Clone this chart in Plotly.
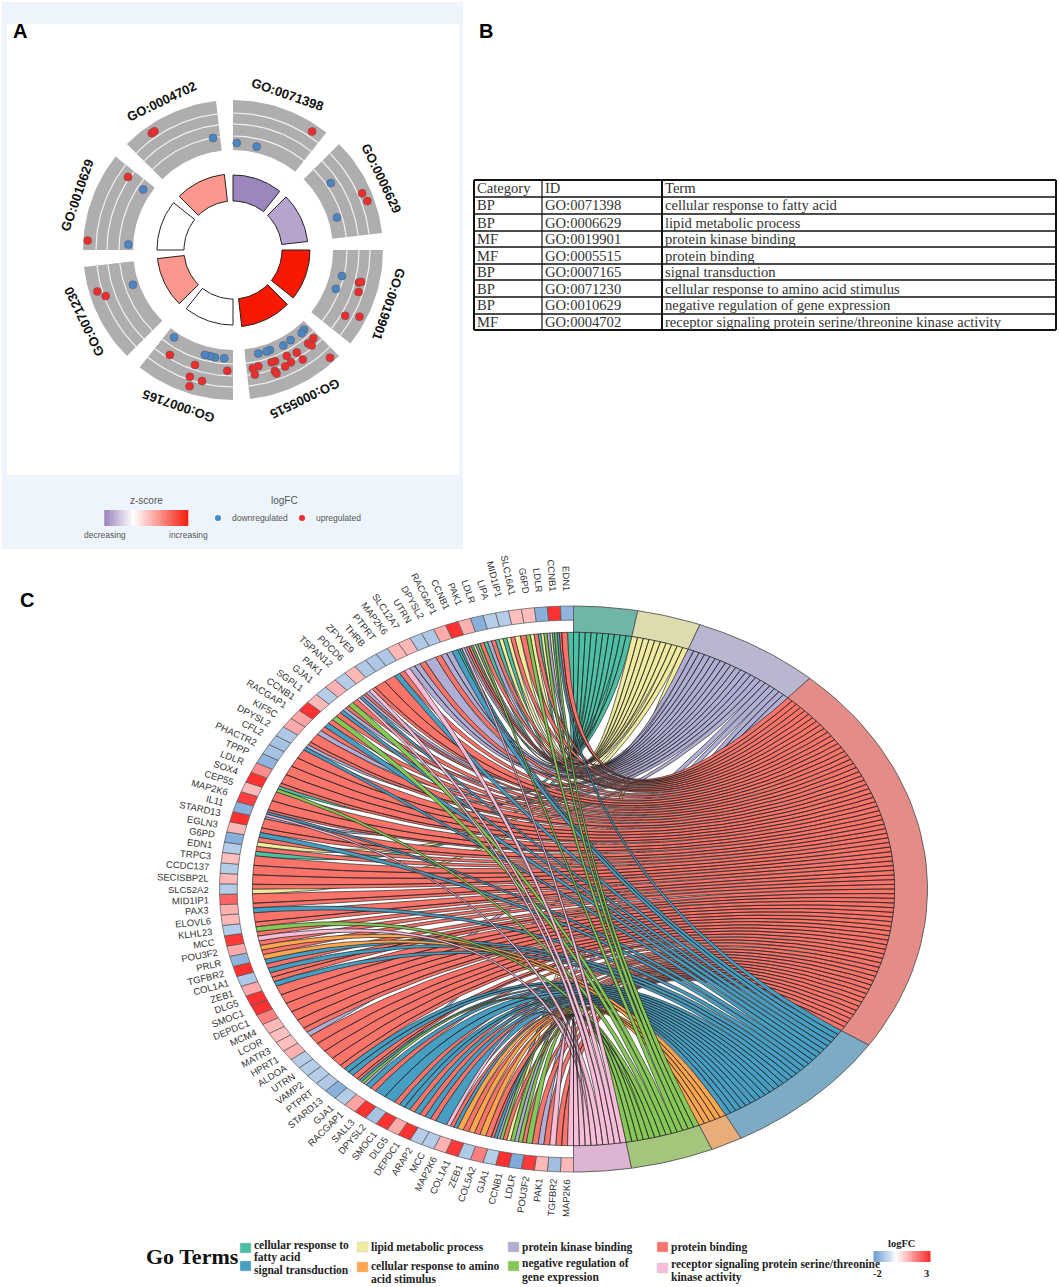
import math
import plotly.graph_objects as go

W, H = 1059, 1287

# ---------- Panel A data ----------
go_ids = ["GO:0071398", "GO:0006629", "GO:0019901", "GO:0005515",
          "GO:0007165", "GO:0071230", "GO:0010629", "GO:0004702"]
zscores = [-1, -0.75, 1, 1, 0, 0.45, 0, 0.45]
bar_sizes = [26, 26, 28, 28, 26, 27, 27, 27]
# (angle in degrees clockwise from top, logFC)
a_down = [(2, -1.3), (12.9, -1.4), (55.6, -0.15), (72.6, -1.1), (103.4, -0.8), (110.7, -1.0),
          (138.3, -1.33), (140.4, -1.22), (147.4, -1.3), (152.2, -1.2), (159.7, -1.34), (161.7, -1.3), (166.3, -1.34),
          (214, -1.46), (184.6, -1.13), (189.5, -1.1), (192.2, -1.16), (195, -1.14), (250.8, -1.4),
          (273, -1.52), (304, -1.17), (349.9, -0.63)]
a_up = [(33.7, 2.25), (66.3, 2.1), (70, 2.3), (104.5, 1.0), (104, 1.2), (108.5, 1.25), (120.4, 1.0), (117.8, 2.3),
        (137.7, -0.06), (141.2, 0.0), (140.5, 0.37), (148.1, 0.07), (153.1, -0.12), (152.7, 0.64), (147.5, 0.98),
        (155.9, 0.76), (159.3, -0.11), (161, -0.12), (160.9, 0.8), (160.6, 1.1), (167.7, -0.1), (170.5, -0.02),
        (170, 0.65), (138, 2.5),
        (182.7, 0.1), (198.3, 0.1), (211, 0.26), (193.3, 1.46), (198.8, 1.4), (197.7, 2.29),
        (253, 2.19), (250.1, 1.54), (273.7, 2.56), (304.8, 0.79), (325.2, 2.23), (326.5, 2.23)]

# ---------- Panel B data ----------
tbl_head = ["Category", "ID", "Term"]
tbl_cat = ["BP", "BP", "MF", "MF", "BP", "BP", "BP", "MF"]
tbl_id = go_ids
tbl_term = ["cellular response to fatty acid", "lipid metabolic process", "protein kinase binding",
            "protein binding", "signal transduction", "cellular response to amino acid stimulus",
            "negative regulation of gene expression",
            "receptor signaling protein serine/threonine kinase activity"]

# ---------- Panel C data ----------
genes = ["MAP2K6", "TGFBR2", "PAK1", "POU3F2", "LDLR", "CCNB1", "GJA1", "COL5A2", "ZEB1", "COL1A1", "MAP2K6", "MCC",
         "ARAP2", "DEPDC1", "DLG5", "SMOC1", "DPYSL2", "SALL3", "RACGAP1", "GJA1", "STARD13", "PTPRT", "VAMP2",
         "UTRN", "ALDOA", "HPRT1", "MATR3", "LCOR", "MCM4", "DEPDC1", "SMOC1", "DLG5", "ZEB1", "COL1A1", "TGFBR2",
         "PRLR", "POU3F2", "MCC", "KLHL23", "ELOVL6", "PAX3", "MID1IP1", "SLC52A2", "SECISBP2L", "CCDC137", "TRPC3",
         "EDN1", "G6PD", "EGLN3", "STARD13", "IL11", "MAP2K6", "CEP55", "SOX4", "LDLR", "TPPP", "PHACTR2", "CFL2",
         "DPYSL2", "KIF5C", "RACGAP1", "CCNB1", "SGPL1", "GJA1", "PAK1", "TSPAN12", "PDCD6", "ZFYVE9", "THRB",
         "PTPRT", "MAP2K6", "SLC12A7", "UTRN", "DPYSL2", "RACGAP1", "CCNB1", "PAK1", "LDLR", "LIPA", "MID1IP1",
         "SLC16A1", "G6PD", "LDLR", "CCNB1", "EDN1"]
gene_logfc = [1.0, -1.3, 1.0, 2.8, -1.7, 2.9, -1.0, 1.8, -1.1, 2.8, 1.1, -1.0, -1.0, 2.9, 1.2, 2.9, -1.2, 2.9, 1.3,
              -1.0, -1.6, -1.1, -1.0, -1.0, -1.0, 1.1, 0.9, 0.9, 1.0, 1.8, 2.9, 2.9, 1.2, -1.1, 2.9, -1.5, 1.2, 2.8,
              -1.0, 1.0, 1.1, 2.2, -1.0, 1.0, -1.0, 0.9, -1.0, -1.6, 1.0, 2.9, -1.6, 2.7, 1.0, 2.9, 1.6, -1.5, -1.2,
              -1.2, -1.1, 1.2, 1.3, 2.9, 1.0, -1.0, 1.1, -1.0, 1.0, -1.1, -1.1, -1.1, 1.0, 1.0, -1.1, -1.1, 1.2, 2.9,
              1.1, -1.6, -1.0, -1.0, 0.9, 0.9, -1.6, 2.9, -1.5]
# terms of each gene, clockwise order (0 fatty acid, 1 lipid, 2 kinase, 3 protein binding,
# 4 signal, 5 amino acid, 6 neg. regulation, 7 receptor kinase)
gene_terms = [[7, 3], [3, 7], [3, 2], [3, 6], [3, 6, 2], [6, 1, 3], [6, 2, 4, 3], [3, 5], [3, 5], [3, 5], [4, 3, 7],
              [4], [3, 4], [3, 4], [3, 4], [4, 3], [4], [4], [3, 4], [2, 6, 4, 3], [3, 4], [4, 3], [3],
              [3], [3], [3], [2, 3], [3], [3], [3], [3], [3], [4, 3], [3, 4], [3, 4], [5, 3], [5, 3], [7, 3], [6, 3],
              [3], [4, 3], [3], [1, 3], [3], [3], [3], [0, 3], [1, 3], [4, 3], [3], [2, 7, 4, 3], [3], [3], [6, 0, 3],
              [3], [3], [3], [3], [4, 2, 3], [3], [2, 3], [4, 3], [6, 3], [4, 2, 3], [6, 3], [7, 4, 2, 3], [2, 7, 3],
              [3], [3], [4, 3], [7, 2], [2, 3], [2], [3, 2], [2, 4], [0, 4, 7, 2, 3], [3, 0, 1, 2, 6], [3, 0, 2],
              [3, 0, 1], [0, 1, 3], [1, 3], [6, 1, 3], [0, 1, 6, 2], [1, 0, 6, 4, 3], [3, 0]]
ring_colors = ["#70b6a8", "#dcdcae", "#b9b6d0", "#e48d88", "#7cabc5", "#e8ad78", "#a3c57c", "#ddb4d2"]
ribbon_colors = ["#4cc0a6", "#f1eb9f", "#b1aed6", "#fb7369", "#469ec3", "#ffa64e", "#86c856", "#f9bdd9"]
legend_terms = [(240, 1248, 0, ["cellular response to", "fatty acid"], [1245, 1257]),
                (240, 1266, 4, ["signal transduction"], [1270]),
                (357, 1247, 1, ["lipid metabolic process"], [1247]),
                (357, 1267, 5, ["cellular response to amino", "acid stimulus"], [1266, 1279]),
                (508, 1247, 2, ["protein kinase binding"], [1247]),
                (508, 1266, 6, ["negative regulation of", "gene expression"], [1263, 1277]),
                (657, 1247, 3, ["protein binding"], [1247]),
                (657, 1268, 7, ["receptor signaling protein serine/threonine", "kinase activity"], [1264, 1277])]

# ---------- geometry ----------
AX, AY = 233, 250
CX, CY, RX, RY = 573.5, 889, 354, 283
R_CHORD, R_GENE = 0.907, 0.95
SANS = "Liberation Sans"
SERIF = "Liberation Serif"


def pol(deg, r):
    t = math.radians(deg)
    return r * math.sin(t), r * math.cos(t)


def hexrgb(h):
    return tuple(int(h[i:i + 2], 16) for i in (1, 3, 5))


def mix(c0, c1, t):
    a, b = hexrgb(c0), hexrgb(c1)
    return "#%02x%02x%02x" % tuple(round(a[i] + (b[i] - a[i]) * t) for i in range(3))


def arc(a0, a1, r, n=24):
    pts = [pol(a0 + (a1 - a0) * k / n, r) for k in range(n + 1)]
    return [p[0] for p in pts], [p[1] for p in pts]


def sector(a0, a1, r0, r1, n=24):
    x1, y1 = arc(a0, a1, r1, n)
    x0, y0 = arc(a1, a0, r0, n)
    return x1 + x0 + [x1[0]], y1 + y0 + [y1[0]]


fig = go.Figure()
annos = []
shapes = []


def paper_text(x, y, text, size, color="#222", family=SANS, anchor="center", bold=False):
    annos.append(dict(xref="paper", yref="paper", x=x / W, y=1 - y / H, text=f"<b>{text}</b>" if bold else text,
                      showarrow=False, xanchor=anchor, yanchor="middle", borderpad=0,
                      font=dict(size=size, color=color, family=family)))


def rect(x0, y0, x1, y1, fill, line=None, width=0):
    shapes.append(dict(type="rect", xref="paper", yref="paper", x0=x0 / W, x1=x1 / W, y0=1 - y0 / H, y1=1 - y1 / H,
                       fillcolor=fill, line=dict(color=line or fill, width=width), layer="below"))


def seg(x0, y0, x1, y1, width):
    shapes.append(dict(type="line", xref="paper", yref="paper", x0=x0 / W, x1=x1 / W, y0=1 - y0 / H, y1=1 - y1 / H,
                       line=dict(color="#111", width=width), layer="below"))


def poly(x, y, fill, line, width, axes="x"):
    fig.add_trace(go.Scatter(x=x, y=y, mode="lines", fill="toself", fillcolor=fill,
                             line=dict(color=line, width=width), hoverinfo="skip", showlegend=False,
                             xaxis=axes, yaxis=axes.replace("x", "y")))


# ---------- Panel A ----------
rect(2, 2, 463, 549, "#eef4fb")
rect(7, 24, 459, 475, "#ffffff")
SPAN = 38.5
for i, gid in enumerate(go_ids):
    a0 = 45 * i
    x, y = sector(a0, a0 + SPAN, 100, 150)
    poly(x, y, "#afadad", "#afadad", 0)
    for r in (114, 126, 137):
        lx, ly = arc(a0, a0 + SPAN, r)
        fig.add_trace(go.Scatter(x=lx, y=ly, mode="lines", line=dict(color="#f2f2f2", width=1.2),
                                 hoverinfo="skip", showlegend=False))
    z = zscores[i]
    col = mix("#ffffff", "#f61800", z) if z >= 0 else mix("#ffffff", "#9d85bd", -z)
    x, y = sector(a0, a0 + SPAN, 49, 49 + bar_sizes[i])
    poly(x, y, col, "#222222", 1)
    lx, ly = pol(a0 + SPAN / 2, 165)
    annos.append(dict(xref="x", yref="y", x=lx, y=ly, text=f"<b>{gid}</b>", showarrow=False, textangle=a0 + SPAN / 2,
                      xanchor="center", yanchor="middle", font=dict(size=13, color="#111", family=SANS)))

for pts, col in ((a_down, "#4a86c5"), (a_up, "#ee2c2c")):
    xs, ys = [], []
    for ang, fc in pts:
        px, py = pol(ang, 120 + 10 * fc)
        xs.append(px)
        ys.append(py)
    fig.add_trace(go.Scatter(x=xs, y=ys, mode="markers", showlegend=False, hoverinfo="skip",
                             marker=dict(size=8, color=col, line=dict(color="#555", width=0.5))))

# panel A legend
ramp = [k / 59 for k in range(60)]
fig.add_trace(go.Heatmap(x=[105 - AX + k * (83 / 59) for k in range(60)], y=[AY - 510, AY - 526], z=[ramp],
                         zmin=0, zmax=1, showscale=False, hoverinfo="skip",
                         colorscale=[[0, "#9d85bd"], [0.34, "#ffffff"], [1, "#f5200e"]]))
paper_text(146, 500, "z-score", 10, "#555")
paper_text(105, 535, "decreasing", 8.5, "#555")
paper_text(188, 535, "increasing", 8.5, "#555")
paper_text(284, 500, "logFC", 10, "#555")
fig.add_trace(go.Scatter(x=[218 - AX, 302 - AX], y=[AY - 518, AY - 518], mode="markers", showlegend=False,
                         hoverinfo="skip", marker=dict(size=6, color=["#4a86c5", "#ee2c2c"])))
paper_text(260, 518, "downregulated", 8.5, "#555")
paper_text(338, 518, "upregulated", 8.5, "#555")
paper_text(20, 31, "A", 20, "#000", bold=True)
paper_text(486, 31, "B", 20, "#000", bold=True)
paper_text(27, 600, "C", 20, "#000", bold=True)

# ---------- Panel B ----------
col_edges = [474, 542, 662, 1056]
row_edges = [180, 197, 214, 231, 247, 264, 280, 297, 314, 330]
for r_i, ry in enumerate(row_edges):
    seg(col_edges[0], ry, col_edges[-1], ry, 2 if r_i in (0, len(row_edges) - 1) else 1.4)
for c_i, cx in enumerate(col_edges):
    seg(cx, row_edges[0], cx, row_edges[-1], 2 if c_i in (0, 2, 3) else 1.2)
table_rows = [tbl_head] + [list(r) for r in zip(tbl_cat, tbl_id, tbl_term)]
for r_i, row in enumerate(table_rows):
    yc = (row_edges[r_i] + row_edges[r_i + 1]) / 2
    for c_i, txt in enumerate(row):
        paper_text(col_edges[c_i] + 2, yc, txt, 14.6, "#333", SERIF, "left")

# ---------- Panel C ----------
n_links = sum(len(t) for t in gene_terms)
unit = 180 / n_links
g_w = 180 / len(genes)
term_counts = [sum(t in ts for ts in gene_terms) for t in range(8)]

# term ring
a = 0
term_start = []
for t, c in enumerate(term_counts):
    term_start.append(a)
    x, y = sector(a, a + c * unit, R_CHORD, 1, 40)
    poly(x, y, ring_colors[t], "#555555", 0.9, "x2")
    a += c * unit

# gene ring
for i, v in enumerate(gene_logfc):
    col = mix("#ffffff", "#ff2a2a", v / 3) if v >= 0 else mix("#ffffff", "#6b9bd2", -v / 2)
    x, y = sector(180 + i * g_w, 180 + (i + 1) * g_w, R_GENE, 1, 4)
    poly(x, y, col, "#555555", 0.7, "x2")

# ribbons
slots = {}
for i, ts in enumerate(gene_terms):
    for k, t in enumerate(ts):
        w = g_w / len(ts)
        slots[(t, i)] = (180 + i * g_w + k * w, 180 + i * g_w + (k + 1) * w)

STEPS = 28
for t in range(8):
    xs, ys = [], []
    members = sorted((g for (tt, g) in slots if tt == t), reverse=True)
    for k, g in enumerate(members):
        a0 = term_start[t] + k * unit
        a1 = a0 + unit
        b0, b1 = slots[(t, g)]
        px, py = arc(a0, a1, R_CHORD, 3)
        A = pol(a1, R_CHORD)
        B = pol(b0, R_CHORD)
        for s in range(1, STEPS + 1):
            u = s / STEPS
            px.append((1 - u) ** 2 * A[0] + u ** 2 * B[0])
            py.append((1 - u) ** 2 * A[1] + u ** 2 * B[1])
        qx, qy = arc(b0, b1, R_CHORD, 3)
        px += qx[1:]
        py += qy[1:]
        A = pol(b1, R_CHORD)
        B = pol(a0, R_CHORD)
        for s in range(1, STEPS + 1):
            u = s / STEPS
            px.append((1 - u) ** 2 * A[0] + u ** 2 * B[0])
            py.append((1 - u) ** 2 * A[1] + u ** 2 * B[1])
        xs += px + [None]
        ys += py + [None]
    poly(xs, ys, ribbon_colors[t], "#262626", 0.7, "x2")

# gene labels
CHAR = {"I": 0.278, "J": 0.5, "1": 0.556, "L": 0.556, "T": 0.61, "F": 0.61, "E": 0.667, "S": 0.667, "P": 0.667,
        "K": 0.667, "M": 0.833, "W": 0.944, "Y": 0.667, "Z": 0.61, "A": 0.667, "B": 0.667, "C": 0.722, "D": 0.722,
        "G": 0.778, "H": 0.722, "N": 0.722, "O": 0.778, "Q": 0.778, "R": 0.722, "U": 0.722, "V": 0.667, "X": 0.667}
for i, name in enumerate(genes):
    ang = 180 + (i + 0.5) * g_w
    sx, cy = pol(ang, 1)
    dx, dy = sx * RX, -cy * RY
    nrm = math.hypot(dx, dy)
    dx, dy = dx / nrm, dy / nrm
    width = sum(CHAR.get(c, 0.556) for c in name) * 9.5
    off = 11 + width / 2
    annos.append(dict(xref="x2", yref="y2", x=sx, y=cy, xshift=dx * off, yshift=-dy * off + 4 * abs(cy), text=name,
                      showarrow=False, xanchor="center", yanchor="middle", borderpad=0,
                      textangle=math.degrees(math.atan2(-dy, -dx)),
                      font=dict(size=9.5, color="#333", family=SANS)))

# chord legend
paper_text(145, 1256, "Go Terms", 22, "#111", SERIF, "left", True)
for sx_, sy_, t, lines, ys_ in legend_terms:
    rect(sx_, sy_ - 5, sx_ + 11, sy_ + 5, ribbon_colors[t], "#cccccc", 0.5)
    for ln, yy in zip(lines, ys_):
        paper_text(sx_ + 13, yy, ln, 11.5, "#222", SERIF, "left", True)
paper_text(901, 1243, "logFC", 10.5, "#222", SERIF, "center", True)
paper_text(877, 1273, "-2", 10.5, "#222", SERIF, "center", True)
paper_text(926, 1273, "3", 10.5, "#222", SERIF, "center", True)
fcv = [-2 + 5 * k / 59 for k in range(60)]
fig.add_trace(go.Heatmap(x=[874 - AX + k * (56 / 59) for k in range(60)], y=[AY - 1251, AY - 1262], z=[fcv],
                         zmin=-2, zmax=3, showscale=False, hoverinfo="skip",
                         colorscale=[[0, "#6b9bd2"], [0.4, "#ffffff"], [1, "#ff2a2a"]]))

hidden = dict(visible=False, showgrid=False, zeroline=False, fixedrange=True)
fig.update_layout(
    width=W, height=H, margin=dict(l=0, r=0, t=0, b=0), paper_bgcolor="white", plot_bgcolor="rgba(0,0,0,0)",
    showlegend=False, annotations=annos, shapes=shapes,
    xaxis=dict(hidden, domain=[0, 1], range=[-AX, W - AX]),
    yaxis=dict(hidden, domain=[0, 1], range=[AY - H, AY]),
    xaxis2=dict(hidden, domain=[0, 1], range=[-CX / RX, (W - CX) / RX], anchor="y2"),
    yaxis2=dict(hidden, domain=[0, 1], range=[(CY - H) / RY, CY / RY], anchor="x2"),
)
fig.write_html("out.html", config=dict(displayModeBar=False),
               post_script="document.body.style.margin='0';document.body.style.overflow='hidden';")
